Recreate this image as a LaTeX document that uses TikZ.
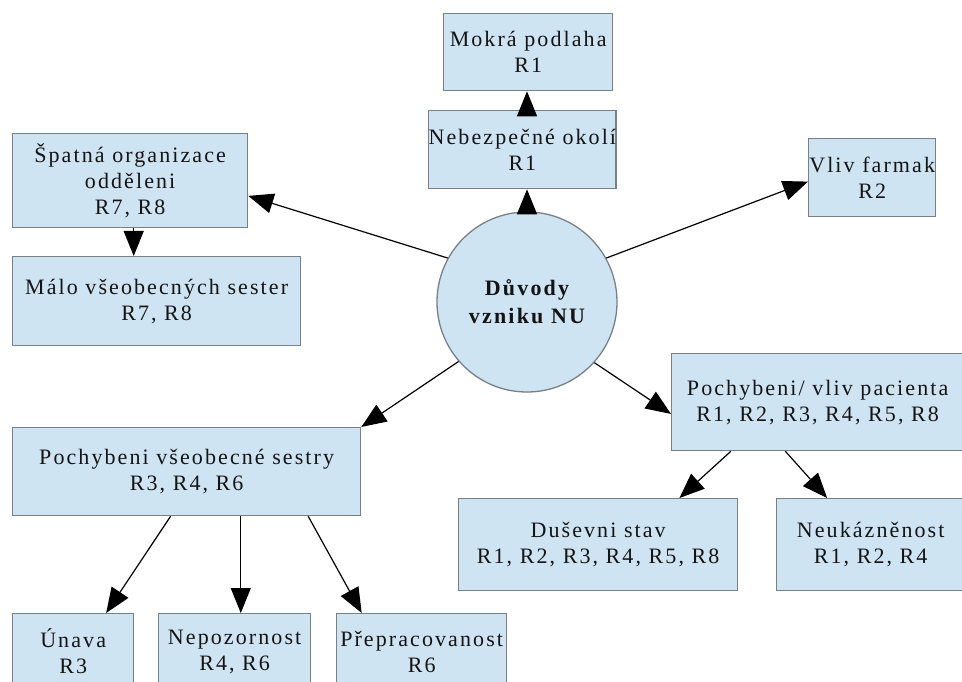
\documentclass[tikz,border=0pt]{standalone}
\usepackage{fontspec}
\setmainfont{Liberation Serif}
\usetikzlibrary{arrows.meta,calc}

\definecolor{boxfill}{RGB}{207,228,243}
\definecolor{boxline}{RGB}{120,128,134}
\definecolor{textcol}{RGB}{20,20,20}

\tikzset{
  box/.style={draw=boxline, fill=boxfill, line width=1.3pt, inner sep=0pt,
    align=center, anchor=north west, text=textcol,
    font=\fontsize{22}{26}\selectfont\addfontfeature{LetterSpace=9.5}},
  hub/.style={circle, draw=boxline, fill=boxfill, line width=1.3pt,
    minimum size=180pt, inner sep=0pt, align=center, text=textcol,
    font=\fontsize{22}{28}\selectfont\bfseries\addfontfeature{LetterSpace=10}},
  link/.style={draw=black, line width=1.2pt,
    -{Triangle[length=25pt,width=20pt]}}
}

\begin{document}
\begin{tikzpicture}[x=1pt,y=-1pt]
  \useasboundingbox (0,0) rectangle (962,682);
  \clip (0,0) rectangle (962,682);
  \fill[white] (0,0) rectangle (962,682);

  % central circle
  \node[hub] (c) at (527,302) {Důvody\\vzniku NU};

  % upper chain
  \node[box, minimum width=169pt, minimum height=77pt] (mok) at (443,13)
    {Mokrá podlaha\\R1};
  \node[box, minimum width=184pt, minimum height=78pt] (neb) at (428,110)
    {Nebezpečné okolí\\R1};

  % left branch
  \node[box, minimum width=235pt, minimum height=94pt] (spat) at (12,133)
    {Špatná organizace\\odděleni\\R7, R8};
  \node[box, minimum width=288pt, minimum height=89pt] (malo) at (12,256)
    {Málo všeobecných sester\\R7, R8};

  % right branch
  \node[box, minimum width=127pt, minimum height=78pt] (vliv) at (808,138)
    {Vliv farmak\\R2};

  % patient branch
  \node[box, minimum width=292pt, minimum height=97pt] (pva) at (671,353)
    {Pochybeni/ vliv pacienta\\R1, R2, R3, R4, R5, R8};
  \node[box, minimum width=279pt, minimum height=92pt] (dus) at (458,498)
    {Duševni stav\\R1, R2, R3, R4, R5, R8};
  \node[box, minimum width=188pt, minimum height=92pt] (neu) at (776,498)
    {Neukázněnost\\R1, R2, R4};

  % nurse branch (bottom row runs off the lower edge)
  \node[box, minimum width=348pt, minimum height=88pt] (pvs) at (12,427)
    {Pochybeni všeobecné sestry\\R3, R4, R6};
  \node[box, minimum width=121pt, minimum height=76pt] (una) at (12,613)
    {Únava\\R3};
  \node[box, minimum width=152pt, minimum height=76pt] (nep) at (158,613)
    {Nepozornost\\R4, R6};
  \node[box, minimum width=170pt, minimum height=76pt] (pre) at (336,613)
    {Přepracovanost\\R6};

  % connectors
  \draw[link] (c.north) -- (c.north |- neb.south);
  \draw[link] (c.north |- neb.north) -- (c.north |- mok.south);
  \draw[link] (c.151) -- ($(spat.north east)!0.66!(spat.south east)$);
  \draw[link] ($(spat.south west)!0.515!(spat.south east)$) coordinate (s1)
    -- (s1 |- malo.north);
  \draw[link] (c.29) -- ($(vliv.north west)!0.55!(vliv.south west)$);
  \draw[link] (c.-42) -- ($(pva.north west)!0.62!(pva.south west)$);
  \draw[link] (c.221) -- (pvs.north east);
  \draw[link] ($(pva.south west)!0.204!(pva.south east)$)
    -- ($(dus.north west)!0.79!(dus.north east)$);
  \draw[link] ($(pva.south west)!0.39!(pva.south east)$)
    -- ($(neu.north west)!0.27!(neu.north east)$);
  \draw[link] ($(pvs.south west)!0.454!(pvs.south east)$)
    -- ($(una.north west)!0.77!(una.north east)$);
  \draw[link] ($(pvs.south west)!0.655!(pvs.south east)$) coordinate (s2)
    -- (s2 |- nep.north);
  \draw[link] ($(pvs.south west)!0.848!(pvs.south east)$)
    -- ($(pre.north west)!0.15!(pre.north east)$);
\end{tikzpicture}
\end{document}
